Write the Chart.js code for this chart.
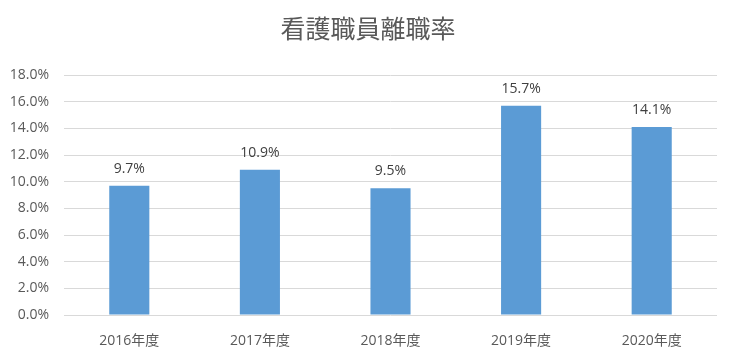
<!DOCTYPE html>
<html>
<head>
<meta charset="utf-8">
<script src="https://cdn.jsdelivr.net/npm/chart.js@4"></script>
<style>
  html, body { margin: 0; padding: 0; background: #fff; }
  #wrap { width: 736px; height: 364px; }
</style>
</head>
<body>
<div id="wrap"><canvas id="chart" width="736" height="364"></canvas></div>
<script>
var chartTitle = "看護職員離職率";
var categories = ["2016年度", "2017年度", "2018年度", "2019年度", "2020年度"];
var rates = [9.7, 10.9, 9.5, 15.7, 14.1];
var yTicks = [0, 2, 4, 6, 8, 10, 12, 14, 16, 18];

var fontFam = "'Open Sans', 'Noto Sans CJK JP', sans-serif";

// title centred on the whole canvas, labels above each bar
var extraText = {
  id: "extraText",
  afterDraw: function (chart) {
    var ctx = chart.ctx;
    ctx.save();
    ctx.font = "25px " + fontFam;
    ctx.fillStyle = "#595959";
    ctx.textAlign = "center";
    ctx.textBaseline = "middle";
    ctx.fillText(chartTitle, chart.width / 2, 31);
    ctx.restore();
  },
  afterDatasetsDraw: function (chart) {
    var ctx = chart.ctx;
    var meta = chart.getDatasetMeta(0);
    ctx.save();
    ctx.font = "14px " + fontFam;
    ctx.fillStyle = "#404040";
    ctx.textAlign = "center";
    ctx.textBaseline = "middle";
    for (var i = 0; i < meta.data.length; i++) {
      var bar = meta.data[i];
      ctx.fillText(rates[i].toFixed(1) + "%", bar.x, bar.y - 17);
    }
    ctx.restore();
  }
};

var myChart = new Chart(document.getElementById("chart").getContext("2d"), {
  type: "bar",
  data: {
    labels: categories,
    datasets: [{
      data: rates,
      backgroundColor: "#5b9bd5",
      borderWidth: 0,
      barPercentage: 0.307,
      categoryPercentage: 1.0
    }]
  },
  options: {
    responsive: false,
    animation: false,
    layout: { padding: { left: 0, right: 19, top: 75, bottom: 0 } },
    plugins: {
      legend: { display: false },
      tooltip: { enabled: false },
      title: { display: false }
    },
    scales: {
      x: {
        grid: { display: false, drawTicks: false },
        border: { display: false },
        ticks: {
          color: "#595959",
          font: { family: fontFam, size: 14 },
          padding: 18
        },
        afterFit: function (scale) { scale.height = 49; }
      },
      y: {
        min: 0,
        max: 18,
        afterBuildTicks: function (scale) {
          scale.ticks = yTicks.map(function (v) { return { value: v }; });
        },
        grid: { color: "#d9d9d9", drawTicks: false, lineWidth: 1 },
        border: { display: false },
        ticks: {
          color: "#595959",
          font: { family: fontFam, size: 14 },
          padding: 15,
          callback: function (v) { return v.toFixed(1) + "%"; }
        },
        afterFit: function (scale) { scale.width = 64; }
      }
    }
  },
  plugins: [extraText]
});
</script>
</body>
</html>
